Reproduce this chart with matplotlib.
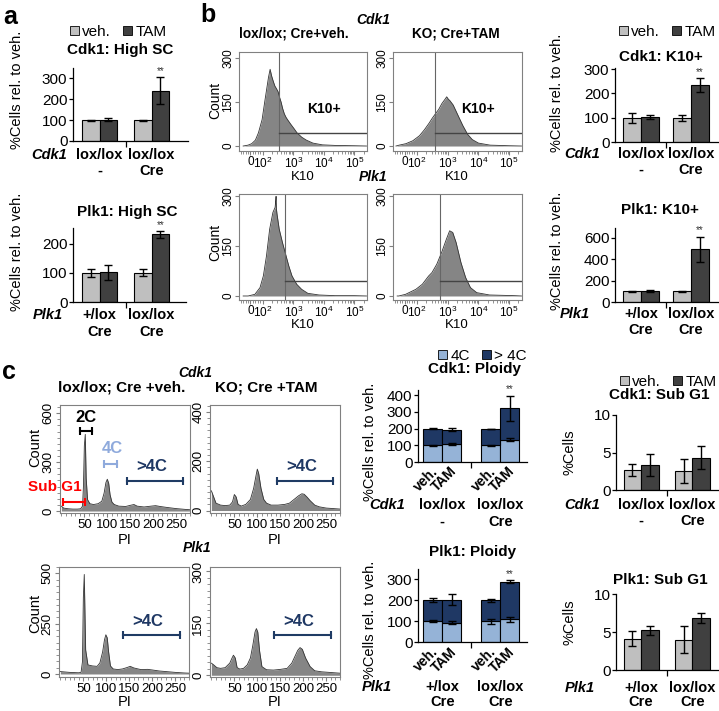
import matplotlib
matplotlib.use('Agg')
import matplotlib.pyplot as plt
from matplotlib.patches import Patch
from matplotlib.transforms import blended_transform_factory
import numpy as np

plt.rcParams['font.family'] = 'Liberation Sans'
plt.rcParams['mathtext.fontset'] = 'custom'
plt.rcParams['mathtext.rm'] = 'Liberation Sans'
plt.rcParams['mathtext.it'] = 'Liberation Sans:italic'
plt.rcParams['mathtext.bf'] = 'Liberation Sans:bold'

W, H = 719, 711
VEH_C = '#bfbfbf'
TAM_C = '#404040'
C4_C = '#95b3d7'
C4P_C = '#1f3864'
HIST_C = '#858585'
FRAME_C = '#808080'

# ---- panel a: % high SC cells rel. to veh.
cdk1_sc_veh = [100, 100]
cdk1_sc_veh_err = [2, 3]
cdk1_sc_tam = [103, 242]
cdk1_sc_tam_err = [5, 63]
plk1_sc_veh = [100, 100]
plk1_sc_veh_err = [14, 12]
plk1_sc_tam = [102, 233]
plk1_sc_tam_err = [25, 11]

# ---- panel b: K10 histograms (K10 intensity, count)
cdk1_veh_k10 = [-60, -20, 10, 40, 65, 95, 120, 140, 155, 175, 195, 220, 250, 285, 320, 360, 400, 450,
                510, 580, 650, 820, 1050, 1330, 1900, 2700, 4400, 9000, 24000, 100000, 250000]
cdk1_veh_cnt = [0, 3, 8, 20, 45, 90, 160, 205, 235, 262, 240, 222, 205, 195, 185, 165, 150, 128,
                110, 98, 90, 75, 60, 45, 30, 20, 10, 4, 2, 1, 0]
cdk1_tam_k10 = [-70, -44, 11, 67, 121, 174, 249, 316, 401, 511, 649, 825, 930, 1050, 1180, 1510, 2160,
                3100, 4440, 6300, 10000, 24000, 100000, 250000]
cdk1_tam_cnt = [0, 3, 8, 18, 35, 55, 78, 95, 110, 125, 145, 160, 168, 160, 155, 140, 105,
                70, 40, 22, 10, 3, 1, 0]
plk1_veh_k10 = [-60, -19, 36, 78, 105, 133, 169, 216, 255, 270, 274, 280, 294, 347, 443, 525, 714,
                910, 1300, 1880, 3000, 7000, 23000, 100000, 250000]
plk1_veh_cnt = [0, 0, 5, 25, 60, 120, 200, 250, 265, 290, 298, 262, 245, 200, 160, 135, 90,
                60, 35, 20, 8, 3, 1, 1, 0]
plk1_tam_k10 = [-60, -47, 8, 92, 150, 242, 309, 443, 635, 910, 1160, 1460, 1880, 2700, 3840, 5500,
                8800, 23000, 150000, 250000]
plk1_tam_cnt = [0, 0, 5, 20, 35, 60, 70, 95, 130, 170, 195, 190, 160, 100, 55, 25,
                10, 3, 1, 0]
gate_x = [340, 383, 525, 560]
gate_count = 45

# ---- panel b: % K10+ cells rel. to veh.
cdk1_k10_veh = [100, 100]
cdk1_k10_veh_err = [20, 12]
cdk1_k10_tam = [103, 234]
cdk1_k10_tam_err = [10, 28]
plk1_k10_veh = [100, 100]
plk1_k10_veh_err = [6, 5]
plk1_k10_tam = [103, 490]
plk1_k10_tam_err = [12, 120]

# ---- panel c: PI histograms (PI, count)
cdk1_veh_pi = [0, 5, 15, 25, 35, 42, 46, 48, 50, 52, 54, 57, 62, 70, 80, 88, 93, 97, 100, 103,
               106, 110, 115, 125, 140, 150, 158, 165, 180, 195, 205, 215, 230, 250, 270, 280]
cdk1_veh_pi_cnt = [30, 18, 14, 12, 12, 14, 30, 150, 400, 470, 200, 70, 45, 40, 45, 60, 110, 175, 195, 170,
                   100, 55, 40, 30, 28, 35, 40, 30, 25, 30, 33, 28, 22, 15, 10, 8]
cdk1_tam_pi = [0, 4, 10, 20, 30, 40, 46, 50, 54, 58, 65, 75, 85, 92, 97, 100, 103, 108, 114, 120,
               130, 145, 160, 170, 180, 190, 197, 202, 208, 215, 225, 235, 250, 265, 280]
cdk1_tam_pi_cnt = [80, 60, 30, 22, 20, 22, 35, 65, 55, 25, 18, 25, 45, 90, 140, 168, 150, 90, 45, 30,
                   22, 22, 25, 30, 45, 60, 68, 66, 55, 40, 22, 15, 10, 8, 6]
plk1_veh_pi = [0, 10, 20, 30, 40, 45, 48, 50, 52, 55, 60, 70, 80, 86, 92, 96, 99, 102, 105, 109,
               115, 125, 135, 145, 152, 160, 175, 190, 200, 215, 230, 250, 270, 280]
plk1_veh_pi_cnt = [12, 10, 8, 7, 6, 8, 60, 380, 495, 120, 45, 40, 38, 55, 110, 170, 195, 180, 110, 40,
                   25, 22, 25, 32, 38, 30, 22, 23, 20, 15, 12, 8, 5, 4]
plk1_tam_pi = [0, 5, 12, 20, 30, 40, 45, 48, 52, 56, 62, 70, 78, 85, 90, 95, 98, 101, 105, 110,
               120, 135, 150, 165, 175, 182, 188, 193, 198, 205, 215, 225, 240, 260, 280]
plk1_tam_pi_cnt = [35, 30, 22, 20, 22, 35, 50, 58, 50, 22, 18, 20, 30, 50, 85, 125, 135, 125, 70, 25,
                   16, 15, 17, 20, 35, 55, 72, 80, 75, 50, 25, 13, 10, 8, 6]

# ---- panel c: ploidy (veh, TAM, veh, TAM)
cdk1_4c = [100, 107, 100, 133]
cdk1_4c_err = [3, 6, 2, 8]
cdk1_gt4c = [100, 86, 100, 187]
cdk1_total_err = [4, 10, 0, 75]
plk1_4c = [100, 93, 100, 108]
plk1_4c_err = [6, 6, 12, 10]
plk1_gt4c = [100, 110, 100, 182]
plk1_total_err = [10, 25, 6, 6]

# ---- panel c: % sub G1 cells
cdk1_subg1_veh = [2.7, 2.5]
cdk1_subg1_veh_err = [0.8, 1.6]
cdk1_subg1_tam = [3.35, 4.3]
cdk1_subg1_tam_err = [1.45, 1.55]
plk1_subg1_veh = [4.1, 4.0]
plk1_subg1_veh_err = [1.0, 1.75]
plk1_subg1_tam = [5.2, 6.9]
plk1_subg1_tam_err = [0.65, 0.65]

fig = plt.figure(figsize=(W / 100, H / 100), dpi=100)

BAR_FS = 11      # tick labels / titles of the bar charts
LAB_FS = 10.5    # category labels and y labels


def box_axes(l, t, r, b):
    return fig.add_axes([l / W, 1 - b / H, (r - l) / W, (b - t) / H])


def ftext(x, y, s, **kw):
    kw.setdefault('ha', 'center')
    kw.setdefault('va', 'center')
    fig.text(x / W, 1 - y / H, s, **kw)


def legend(x, y, items):
    handles = [Patch(facecolor=c, edgecolor='black', linewidth=0.6, label=s) for s, c in items]
    fig.legend(handles=handles, loc='center left', bbox_to_anchor=(x / W, 1 - y / H), ncol=2,
               frameon=False, fontsize=11, handlelength=0.6, handleheight=0.6,
               handletextpad=0.2, columnspacing=0.8, borderpad=0, borderaxespad=0)


def style_bars(ax, xlim, ylim, yticks):
    ax.set_xlim(xlim)
    ax.set_ylim(ylim)
    ax.set_yticks(yticks)
    ax.spines['top'].set_visible(False)
    ax.spines['right'].set_visible(False)
    ax.spines['left'].set_linewidth(0.9)
    ax.spines['bottom'].set_linewidth(0.9)
    ax.set_xticks([0.5])
    ax.set_xticklabels([])
    ax.tick_params(axis='x', length=4, width=0.9)
    ax.tick_params(axis='y', length=3, width=0.9, labelsize=BAR_FS, pad=1)


def group_labels(box, xlim, gene, gene_x, line1, line2, y1, y2):
    l, t, r, b = box
    for i in range(len(line1)):
        xc = l + (i - xlim[0]) / (xlim[1] - xlim[0]) * (r - l)
        ftext(xc, y1, line1[i], fontsize=LAB_FS, weight='bold')
        ftext(xc, y2, line2[i], fontsize=LAB_FS, weight='bold')
    ftext(gene_x, y1, gene, fontsize=LAB_FS, weight='bold', style='italic', ha='right')


def pair_bars(box, xlim, width, ylim, yticks, veh, veh_err, tam, tam_err):
    ax = box_axes(*box)
    x = np.arange(len(veh))
    ax.bar(x - width / 2, veh, width, yerr=veh_err, color=VEH_C, edgecolor='black',
           linewidth=0.8, capsize=3, error_kw=dict(elinewidth=1, capthick=1))
    ax.bar(x + width / 2, tam, width, yerr=tam_err, color=TAM_C, edgecolor='black',
           linewidth=0.8, capsize=3, error_kw=dict(elinewidth=1, capthick=1))
    style_bars(ax, xlim, ylim, yticks)
    return ax


def stars(ax, x, y):
    ax.annotate('**', (x, y), xytext=(0, 1), textcoords='offset points', ha='center',
                va='bottom', fontsize=7, color='#333333', annotation_clip=False)


def k10_hist(box, x, cnt, gate, ylim, k10_label):
    ax = box_axes(*box)
    ax.set_xscale('symlog', linthresh=100, linscale=0.36)
    ax.fill_between(x, cnt, color=HIST_C, linewidth=0)
    ax.plot(x, cnt, color='#333333', lw=0.6)
    ax.set_xlim(-94, 2.6e5)
    ax.set_ylim(ylim)
    ax.axvline(gate, color='#666666', lw=0.8)
    ax.plot([gate, 2.6e5], [gate_count, gate_count], color='#444444', lw=1)
    ax.set_xticks([0, 1e2, 1e3, 1e4, 1e5])
    ax.set_xticklabels(['0', '$10^2$', '$10^3$', '$10^4$', '$10^5$'])
    minor = list(range(-80, 100, 20)) + [k * 10 ** n for n in (2, 3, 4) for k in range(2, 10)] + [2e5]
    ax.set_xticks(minor, minor=True)
    ax.set_yticks([0, 150, 300])
    ax.set_yticklabels(['0', '150', '300'], rotation=90, va='center')
    for s in ax.spines.values():
        s.set_color(FRAME_C)
        s.set_linewidth(0.8)
    ax.tick_params(which='both', color=FRAME_C, labelsize=8.5, pad=0.5)
    ax.tick_params(which='major', length=3)
    ax.tick_params(which='minor', length=2)
    if k10_label:
        ax.text(1e4, 125, 'K10+', ha='center', va='center', fontsize=10, weight='bold')
    return ax


def pi_hist(box, x, cnt, ylim, yticks):
    ax = box_axes(*box)
    ax.fill_between(x, cnt, color=HIST_C, linewidth=0)
    ax.plot(x, cnt, color='#333333', lw=0.6)
    ax.set_xlim(-3, 280)
    ax.set_ylim(ylim)
    ax.set_xticks([50, 100, 150, 200, 250])
    ax.set_xticks(np.arange(0, 281, 10), minor=True)
    ax.set_yticks(yticks)
    ax.set_yticklabels([str(v) for v in yticks], rotation=90, va='center')
    ax.set_yticks(np.arange(0, ylim[1], yticks[1] / 8), minor=True)
    for s in ax.spines.values():
        s.set_color(FRAME_C)
        s.set_linewidth(0.8)
    ax.tick_params(which='both', color=FRAME_C, labelsize=9.5, pad=1)
    ax.tick_params(which='major', length=3)
    ax.tick_params(which='minor', length=2)
    return ax


def bracket(ax, x0, x1, y, color):
    tr = blended_transform_factory(ax.transData, ax.transAxes)
    ax.plot([x0, x1], [y, y], color=color, lw=1.5, transform=tr, clip_on=False)
    ax.plot([x0, x1], [y, y], ls='none', marker='|', ms=6, mew=1.5, color=color,
            transform=tr, clip_on=False)


def atext(ax, x, y, s, color, size=12):
    tr = blended_transform_factory(ax.transData, ax.transAxes)
    ax.text(x, y, s, transform=tr, ha='center', va='center', color=color, fontsize=size,
            weight='bold', clip_on=False)


def ploidy(box, xlim, width, ylim, yticks, c4, c4_err, gt4, tot_err):
    ax = box_axes(*box)
    xs = [0 - width / 2, 0 + width / 2, 1 - width / 2, 1 + width / 2]
    tot = [a + b for a, b in zip(c4, gt4)]
    ax.bar(xs, c4, width, color=C4_C, edgecolor='black', linewidth=0.8)
    ax.bar(xs, gt4, width, bottom=c4, color=C4P_C, edgecolor='black', linewidth=0.8)
    ax.errorbar(xs, c4, yerr=c4_err, fmt='none', ecolor='black', elinewidth=1, capsize=3, capthick=1)
    ax.errorbar(xs, tot, yerr=tot_err, fmt='none', ecolor='black', elinewidth=1, capsize=3, capthick=1)
    style_bars(ax, xlim, ylim, yticks)
    tr = blended_transform_factory(ax.transData, ax.transAxes)
    for xx, s in zip(xs, ['veh.', 'TAM', 'veh.', 'TAM']):
        ax.text(xx + 0.05, -0.1, s, transform=tr, rotation=45, rotation_mode='anchor',
                ha='right', va='center', fontsize=10, weight='bold')
    return ax, xs, tot


# ================= panel a =================
ftext(10, 17, 'a', fontsize=18, weight='bold')
legend(70, 32, [('veh.', VEH_C), ('TAM', TAM_C)])
ftext(120, 50, 'Cdk1: High SC', fontsize=BAR_FS, weight='bold')
box = (73, 68, 188, 141)
xl = (-0.51, 1.70)
ax = pair_bars(box, xl, 0.34, (0, 350), [0, 100, 200, 300],
               cdk1_sc_veh, cdk1_sc_veh_err, cdk1_sc_tam, cdk1_sc_tam_err)
stars(ax, 1.17, cdk1_sc_tam[1] + cdk1_sc_tam_err[1])
group_labels(box, xl, 'Cdk1', 67, ['lox/lox', 'lox/lox'], ['-', 'Cre'], 155, 171)
ftext(17, 90, '%Cells rel. to veh.', fontsize=LAB_FS, rotation=90)

ftext(127, 212, 'Plk1: High SC', fontsize=BAR_FS, weight='bold')
box = (73, 228, 186, 302)
xl = (-0.51, 1.66)
ax = pair_bars(box, xl, 0.34, (0, 255), [0, 100, 200],
               plk1_sc_veh, plk1_sc_veh_err, plk1_sc_tam, plk1_sc_tam_err)
stars(ax, 1.17, plk1_sc_tam[1] + plk1_sc_tam_err[1])
group_labels(box, xl, 'Plk1', 63, ['+/lox', 'lox/lox'], ['Cre', 'Cre'], 315, 332)
ftext(17, 252, '%Cells rel. to veh.', fontsize=LAB_FS, rotation=90)

# ================= panel b =================
ftext(208, 15, 'b', fontsize=18, weight='bold')
ftext(373, 20, 'Cdk1', fontsize=10, weight='bold', style='italic')
ftext(294, 33, 'lox/lox; Cre+veh.', fontsize=9.8, weight='bold')
ftext(456, 33, 'KO; Cre+TAM', fontsize=9.8, weight='bold')
k10_hist((239, 52, 367, 151), cdk1_veh_k10, cdk1_veh_cnt, gate_x[0], (-17, 321), True)
k10_hist((393, 52, 522, 151), cdk1_tam_k10, cdk1_tam_cnt, gate_x[1], (-17, 321), True)
ftext(303, 177, 'K10', fontsize=9.5)
ftext(457, 177, 'K10', fontsize=9.5)
ftext(215, 100, 'Count', fontsize=10, rotation=90)
ftext(373, 177, 'Plk1', fontsize=10, weight='bold', style='italic')
k10_hist((239, 194, 367, 300), plk1_veh_k10, plk1_veh_cnt, gate_x[2], (-12, 305), False)
k10_hist((393, 194, 522, 300), plk1_tam_k10, plk1_tam_cnt, gate_x[3], (-12, 305), False)
ftext(303, 325, 'K10', fontsize=9.5)
ftext(457, 325, 'K10', fontsize=9.5)
ftext(215, 242, 'Count', fontsize=10, rotation=90)

legend(619, 32, [('veh.', VEH_C), ('TAM', TAM_C)])
ftext(661, 57, 'Cdk1: K10+', fontsize=BAR_FS, weight='bold')
box = (615, 68, 718, 142)
xl = (-0.52, 1.54)
ax = pair_bars(box, xl, 0.36, (0, 305), [0, 100, 200, 300],
               cdk1_k10_veh, cdk1_k10_veh_err, cdk1_k10_tam, cdk1_k10_tam_err)
stars(ax, 1.18, cdk1_k10_tam[1] + cdk1_k10_tam_err[1])
group_labels(box, xl, 'Cdk1', 600, ['lox/lox', 'lox/lox'], ['-', 'Cre'], 154, 170)
ftext(557, 93, '%Cells rel. to veh.', fontsize=LAB_FS, rotation=90)

ftext(660, 210, 'Plk1: K10+', fontsize=BAR_FS, weight='bold')
box = (615, 228, 718, 302)
ax = pair_bars(box, xl, 0.36, (0, 690), [0, 200, 400, 600],
               plk1_k10_veh, plk1_k10_veh_err, plk1_k10_tam, plk1_k10_tam_err)
stars(ax, 1.18, plk1_k10_tam[1] + plk1_k10_tam_err[1])
group_labels(box, xl, 'Plk1', 590, ['+/lox', 'lox/lox'], ['Cre', 'Cre'], 314, 330)
ftext(557, 251, '%Cells rel. to veh.', fontsize=LAB_FS, rotation=90)

# ================= panel c =================
ftext(9, 372, 'c', fontsize=18, weight='bold')
ftext(195, 373, 'Cdk1', fontsize=10, weight='bold', style='italic')
ftext(122, 388, 'lox/lox; Cre +veh.', fontsize=11, weight='bold')
ftext(266, 388, 'KO; Cre +TAM', fontsize=11, weight='bold')

ax = pi_hist((60, 405, 190, 513), cdk1_veh_pi, cdk1_veh_pi_cnt, (-12, 650), [0, 300, 600])
atext(ax, 54, 0.88, '2C', 'black')
bracket(ax, 41, 67, 0.76, 'black')
atext(ax, 110, 0.60, '4C', '#8faadc')
bracket(ax, 93, 121, 0.45, '#8faadc')
atext(ax, 197, 0.43, '>4C', C4P_C)
bracket(ax, 143, 264, 0.30, '#1f3b64')
atext(ax, -14, 0.24, 'Sub G1', 'red', 11)
bracket(ax, 4, 51, 0.10, 'red')

ax = pi_hist((210, 405, 340, 513), cdk1_tam_pi, cdk1_tam_pi_cnt, (-10, 428), [0, 200, 400])
atext(ax, 197, 0.43, '>4C', C4P_C)
bracket(ax, 143, 264, 0.30, '#1f3b64')
ftext(125, 540, 'PI', fontsize=10.5)
ftext(275, 540, 'PI', fontsize=10.5)
ftext(35, 447, 'Count', fontsize=10.5, rotation=90)

ftext(197, 548, 'Plk1', fontsize=10, weight='bold', style='italic')
ax = pi_hist((59, 567, 189, 677), plk1_veh_pi, plk1_veh_pi_cnt, (-15, 532), [0, 250, 500])
atext(ax, 190, 0.50, '>4C', C4P_C)
bracket(ax, 136, 260, 0.38, '#1f3b64')
ax = pi_hist((210, 567, 340, 677), plk1_tam_pi, plk1_tam_pi_cnt, (-5, 313), [0, 150, 300])
atext(ax, 190, 0.50, '>4C', C4P_C)
bracket(ax, 136, 260, 0.38, '#1f3b64')
ftext(125, 702, 'PI', fontsize=10.5)
ftext(275, 702, 'PI', fontsize=10.5)
ftext(35, 613, 'Count', fontsize=10.5, rotation=90)

# ploidy
legend(438, 356, [('4C', C4_C), ('> 4C', C4P_C)])
ftext(475, 369, 'Cdk1: Ploidy', fontsize=BAR_FS, weight='bold')
box = (418, 390, 527, 462)
xl = (-0.42, 1.46)
ax, xs, tot = ploidy(box, xl, 0.33, (0, 430), [0, 100, 200, 300, 400],
                     cdk1_4c, cdk1_4c_err, cdk1_gt4c, cdk1_total_err)
stars(ax, xs[3], tot[3] + cdk1_total_err[3])
group_labels(box, xl, 'Cdk1', 405, ['lox/lox', 'lox/lox'], ['-', 'Cre'], 505, 522)
ftext(370, 442, '%Cells rel. to veh.', fontsize=LAB_FS, rotation=90)

ftext(473, 552, 'Plk1: Ploidy', fontsize=BAR_FS, weight='bold')
box = (418, 569, 527, 642)
ax, xs, tot = ploidy(box, xl, 0.33, (0, 350), [0, 100, 200, 300],
                     plk1_4c, plk1_4c_err, plk1_gt4c, plk1_total_err)
stars(ax, xs[3], tot[3] + plk1_total_err[3])
group_labels(box, xl, 'Plk1', 392, ['+/lox', 'lox/lox'], ['Cre', 'Cre'], 687, 702)
ftext(370, 620, '%Cells rel. to veh.', fontsize=LAB_FS, rotation=90)

# sub G1
legend(620, 382, [('veh.', VEH_C), ('TAM', TAM_C)])
ftext(659, 395, 'Cdk1: Sub G1', fontsize=BAR_FS, weight='bold')
box = (616, 415, 718, 490)
xl = (-0.49, 1.50)
ax = pair_bars(box, xl, 0.34, (0, 10), [0, 5, 10],
               cdk1_subg1_veh, cdk1_subg1_veh_err, cdk1_subg1_tam, cdk1_subg1_tam_err)
group_labels(box, xl, 'Cdk1', 600, ['lox/lox', 'lox/lox'], ['-', 'Cre'], 505, 521)
ftext(570, 452, '%Cells', fontsize=LAB_FS, rotation=90)

ftext(660, 580, 'Plk1: Sub G1', fontsize=BAR_FS, weight='bold')
box = (616, 594, 718, 670)
ax = pair_bars(box, xl, 0.34, (0, 10), [0, 5, 10],
               plk1_subg1_veh, plk1_subg1_veh_err, plk1_subg1_tam, plk1_subg1_tam_err)
group_labels(box, xl, 'Plk1', 595, ['+/lox', 'lox/lox'], ['Cre', 'Cre'], 688, 702)
ftext(570, 622, '%Cells', fontsize=LAB_FS, rotation=90)

fig.savefig('out.png', dpi=100)
